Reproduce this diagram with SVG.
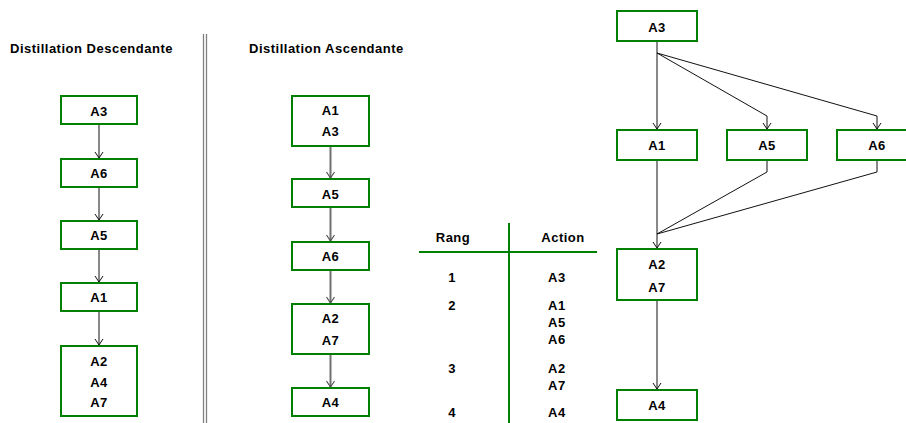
<svg xmlns="http://www.w3.org/2000/svg" width="906" height="423" viewBox="0 0 906 423">
  <style>
    text { font-family: "Liberation Sans", Arial, sans-serif; font-size: 13px; font-weight: bold; letter-spacing: 0.5px; fill: #000; }
    .c { text-anchor: middle; }
    .box { fill: #fff; stroke: #008000; stroke-width: 2; }
    .edge { fill: none; stroke: #111; stroke-width: 1; }
    .edge-g { fill: none; stroke: #707070; stroke-width: 2; }
    .sep { stroke: #808080; stroke-width: 1.3; }
    .rule { stroke: #008000; stroke-width: 2; }
  </style>
  <defs>
    <marker id="vhead" markerUnits="userSpaceOnUse" markerWidth="12" markerHeight="12" refX="0" refY="0" viewBox="-7 -6 8 12" orient="auto" overflow="visible">
      <path d="M-6,-4 L0,0 L-6,4" fill="none" stroke="#111" stroke-width="1"/>
    </marker>
    <marker id="vhead-g" markerUnits="userSpaceOnUse" markerWidth="12" markerHeight="12" refX="0" refY="0" viewBox="-7 -6 8 12" orient="auto" overflow="visible">
      <path d="M-6,-4 L0,0 L-6,4" fill="none" stroke="#505050" stroke-width="1.2"/>
    </marker>
  </defs>
  <rect width="906" height="423" fill="#fff"/>

  <!-- Titles -->
  <text x="10" y="53">Distillation Descendante</text>
  <text x="249" y="53">Distillation Ascendante</text>

  <!-- Double separator -->
  <line class="sep" x1="203.5" y1="34" x2="203.5" y2="423"/>
  <line class="sep" x1="206.5" y1="34" x2="206.5" y2="423"/>

  <!-- Connectors -->
  <g id="connectors">
    <!-- descending chain -->
    <path class="edge" d="M99,124 V158" marker-end="url(#vhead)"/>
    <path class="edge" d="M99,187 V220" marker-end="url(#vhead)"/>
    <path class="edge" d="M99,250 V282" marker-end="url(#vhead)"/>
    <path class="edge" d="M99,312 V345" marker-end="url(#vhead)"/>
    <!-- ascending chain -->
    <path class="edge-g" d="M330.5,146 V178" marker-end="url(#vhead-g)"/>
    <path class="edge-g" d="M330.5,208 V241" marker-end="url(#vhead-g)"/>
    <path class="edge-g" d="M330.5,271 V303" marker-end="url(#vhead-g)"/>
    <path class="edge-g" d="M330.5,354 V387" marker-end="url(#vhead-g)"/>
    <!-- ranked graph -->
    <path class="edge" d="M657,42 V129" marker-end="url(#vhead)"/>
    <path class="edge" d="M657,53 L767,116 V129" marker-end="url(#vhead)"/>
    <path class="edge" d="M657,53 L877,116 V129" marker-end="url(#vhead)"/>
    <path class="edge" d="M657,161 V248" marker-end="url(#vhead)"/>
    <path class="edge" d="M767,161 V172 L657,234"/>
    <path class="edge" d="M877,161 V172 L657,234"/>
    <path class="edge" d="M657,301 V389" marker-end="url(#vhead)"/>
  </g>

  <!-- Descending distillation nodes -->
  <g id="d-a3"><rect class="box" x="61" y="96" width="76" height="28"/><text class="c" x="99" y="116">A3</text></g>
  <g id="d-a6"><rect class="box" x="61" y="159" width="76" height="28"/><text class="c" x="99" y="178">A6</text></g>
  <g id="d-a5"><rect class="box" x="61" y="221" width="76" height="28"/><text class="c" x="99" y="240">A5</text></g>
  <g id="d-a1"><rect class="box" x="61" y="283" width="76" height="28"/><text class="c" x="99" y="302">A1</text></g>
  <g id="d-a2a4a7"><rect class="box" x="61" y="346" width="76" height="70"/>
    <text class="c" x="99" y="366">A2</text><text class="c" x="99" y="387">A4</text><text class="c" x="99" y="407">A7</text></g>

  <!-- Ascending distillation nodes -->
  <g id="a-a1a3"><rect class="box" x="292" y="96" width="77" height="50"/>
    <text class="c" x="330.5" y="115">A1</text><text class="c" x="330.5" y="136">A3</text></g>
  <g id="a-a5"><rect class="box" x="292" y="179" width="77" height="28"/><text class="c" x="330.5" y="199">A5</text></g>
  <g id="a-a6"><rect class="box" x="292" y="242" width="77" height="28"/><text class="c" x="330.5" y="261">A6</text></g>
  <g id="a-a2a7"><rect class="box" x="292" y="304" width="77" height="50"/>
    <text class="c" x="330.5" y="323">A2</text><text class="c" x="330.5" y="345">A7</text></g>
  <g id="a-a4"><rect class="box" x="292" y="388" width="77" height="28"/><text class="c" x="330.5" y="407">A4</text></g>

  <!-- Rank table -->
  <g id="rank-table">
    <line class="rule" x1="419" y1="252" x2="597" y2="252"/>
    <line class="rule" x1="509" y1="223" x2="509" y2="423"/>
    <text class="c" x="453" y="242">Rang</text>
    <text class="c" x="563" y="242">Action</text>
    <text class="c" x="452" y="282">1</text>
    <text x="548" y="282">A3</text>
    <text class="c" x="452" y="310">2</text>
    <text x="548" y="310">A1</text>
    <text x="548" y="327">A5</text>
    <text x="548" y="344">A6</text>
    <text class="c" x="452" y="373">3</text>
    <text x="548" y="373">A2</text>
    <text x="548" y="390">A7</text>
    <text class="c" x="452" y="417">4</text>
    <text x="548" y="417">A4</text>
  </g>

  <!-- Ranked graph nodes -->
  <g id="g-a3"><rect class="box" x="617" y="11" width="80" height="30"/><text class="c" x="657" y="32">A3</text></g>
  <g id="g-a1"><rect class="box" x="617" y="130" width="80" height="30"/><text class="c" x="657" y="150">A1</text></g>
  <g id="g-a5"><rect class="box" x="727" y="130" width="80" height="30"/><text class="c" x="767" y="150">A5</text></g>
  <g id="g-a6"><rect class="box" x="837" y="130" width="80" height="30"/><text class="c" x="877" y="150">A6</text></g>
  <g id="g-a2a7"><rect class="box" x="617" y="249" width="80" height="51"/>
    <text class="c" x="657" y="269">A2</text><text class="c" x="657" y="292">A7</text></g>
  <g id="g-a4"><rect class="box" x="617" y="390" width="80" height="30"/><text class="c" x="657" y="410">A4</text></g>
</svg>
